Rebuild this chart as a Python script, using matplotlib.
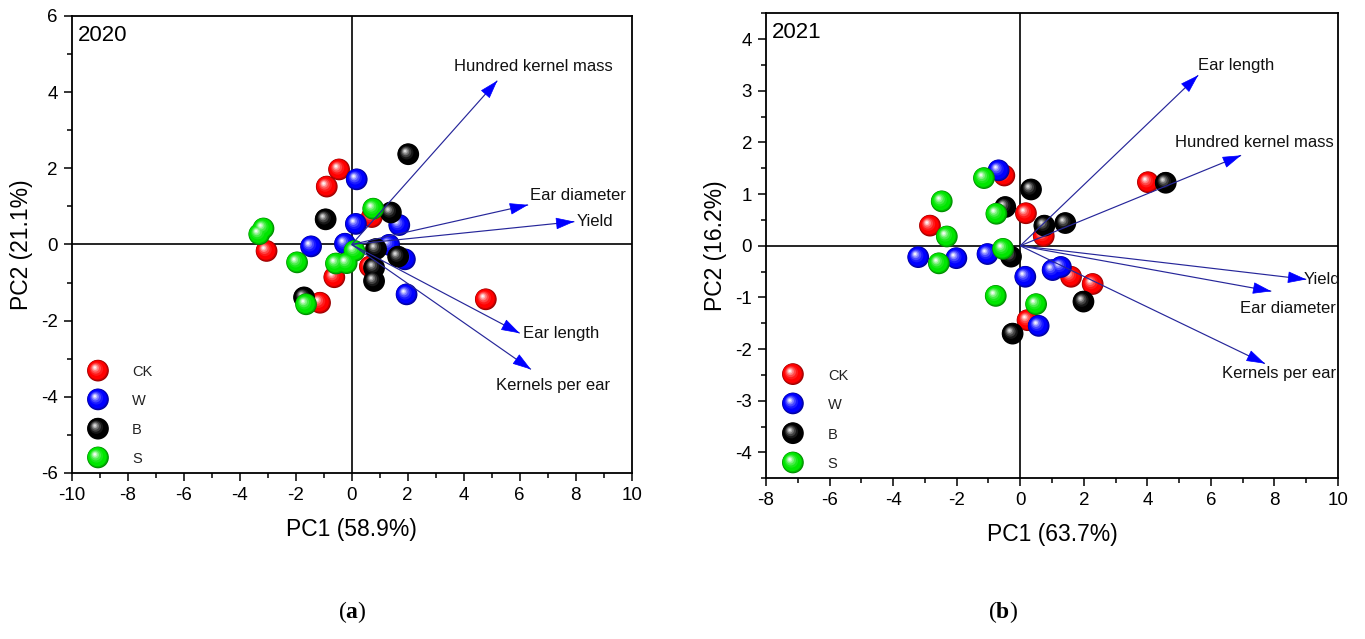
import numpy as np
import matplotlib
matplotlib.use('Agg')
import matplotlib.pyplot as plt
from matplotlib.colors import to_rgb
from matplotlib.transforms import ScaledTranslation
from matplotlib.patches import FancyArrowPatch
from matplotlib.ticker import MultipleLocator

plt.rcParams['font.family'] = ['Liberation Sans', 'DejaVu Sans']
plt.rcParams['axes.unicode_minus'] = False
plt.rcParams['mathtext.fontset'] = 'custom'
plt.rcParams['mathtext.rm'] = 'Liberation Serif'
plt.rcParams['mathtext.bf'] = 'Liberation Serif:bold'

# ---------------- data ----------------
groups = ['CK', 'W', 'B', 'S']
group_colors = ['#ff0000', '#0000ff', '#000000', '#00e600']

# 2020 PCA scores
ck20_x = [-0.45, -0.89, 0.72, -3.04, 0.65, -0.62, -1.13, 4.79]
ck20_y = [1.97, 1.52, 0.72, -0.17, -0.58, -0.86, -1.53, -1.44]
w20_x = [0.18, 1.70, 0.15, -1.45, -0.24, 1.34, 1.90, 1.96]
w20_y = [1.71, 0.51, 0.54, -0.05, 0.02, -0.01, -0.39, -1.31]
b20_x = [2.02, 1.40, -0.93, 0.87, 1.66, 0.80, 0.80, -1.70]
b20_y = [2.37, 0.84, 0.66, -0.12, -0.32, -0.61, -0.96, -1.39]
s20_x = [0.77, -3.15, -3.30, 0.10, -0.18, -1.95, -0.56, -1.63]
s20_y = [0.94, 0.42, 0.27, -0.17, -0.49, -0.47, -0.50, -1.57]

vec20_names = ['Hundred kernel mass', 'Ear diameter', 'Yield', 'Ear length', 'Kernels per ear']
vec20_x = [5.2, 6.3, 7.95, 6.0, 6.4]
vec20_y = [4.3, 1.04, 0.60, -2.33, -3.28]

# 2021 PCA scores
ck21_x = [-0.50, 0.18, -2.84, 0.74, 4.02, 1.60, 2.28, 0.23]
ck21_y = [1.36, 0.63, 0.39, 0.19, 1.23, -0.60, -0.74, -1.44]
w21_x = [-0.68, -3.21, -2.01, -1.03, 0.16, 1.02, 1.28, 0.58]
w21_y = [1.46, -0.22, -0.24, -0.16, -0.60, -0.47, -0.41, -1.55]
b21_x = [0.34, -0.47, 0.76, 1.42, 4.58, -0.29, 1.99, -0.24]
b21_y = [1.09, 0.75, 0.39, 0.44, 1.22, -0.21, -1.08, -1.70]
s21_x = [-1.14, -2.47, -0.75, -2.31, -2.56, -0.54, -0.77, 0.50]
s21_y = [1.31, 0.86, 0.62, 0.18, -0.34, -0.06, -0.97, -1.13]

vec21_names = ['Ear length', 'Hundred kernel mass', 'Yield', 'Ear diameter', 'Kernels per ear']
vec21_x = [5.6, 6.95, 9.0, 7.9, 7.7]
vec21_y = [3.3, 1.75, -0.65, -0.88, -2.28]

# ---------------- styling / layout ----------------
DPI = 100
fig = plt.figure(figsize=(13.65, 6.39), dpi=DPI)

ax1 = fig.add_axes([0.0525, 0.2598, 0.4103, 0.7152])
ax2 = fig.add_axes([0.5612, 0.2515, 0.4190, 0.7277])

# label offsets (pixels) relative to arrow tips, and alignment
lab20 = [(-43, 14, 'left'), (2, 9, 'left'), (2, 0, 'left'), (3, 0, 'left'), (-35, -16, 'left')]
lab21 = [(0, 10, 'left'), (-66, 13, 'left'), (-3, 0, 'left'), (65, -17, 'right'), (71, -10, 'right')]

LAYERS = [(1.00, 0.00, -0.40), (0.94, 0.04, -0.20), (0.86, 0.08, 0.0),
          (0.62, 0.20, 0.10), (0.48, 0.28, 0.28), (0.34, 0.34, 0.50),
          (0.22, 0.38, 0.75), (0.11, 0.40, 0.95)]


def draw_spheres(ax, xs, ys, color, z, trans=None, s=245):
    base = np.array(to_rgb(color))
    R = np.sqrt(s) / 2.0
    tr0 = trans if trans is not None else ax.transData
    for k, (rf, sf, mix) in enumerate(LAYERS):
        if mix < 0:
            c = base * (1 + mix)
        else:
            c = base * (1 - mix) + np.ones(3) * mix
        if color == '#000000' and mix > 0:
            c = np.ones(3) * (mix * 0.9)
        sh = sf * R * 0.72 / 72.0
        off = ScaledTranslation(-sh, sh, fig.dpi_scale_trans)
        ax.scatter(xs, ys, s=(2 * R * rf) ** 2, color=[np.clip(c, 0, 1)],
                   edgecolors='none', transform=tr0 + off,
                   zorder=z + k * 0.001, clip_on=False)


def draw_vectors(ax, names, vx, vy, offs):
    for name, x, y, (dx, dy, ha) in zip(names, vx, vy, offs):
        ax.plot([0, x], [0, y], color='#26269a', lw=0.85, zorder=20,
                solid_capstyle='butt')
        p0 = ax.transData.transform((0, 0))
        p1 = ax.transData.transform((x, y))
        d = (p1 - p0) / np.linalg.norm(p1 - p0)
        tail = ax.transData.inverted().transform(p1 - d * 14)
        arr = FancyArrowPatch(posA=tuple(tail), posB=(x, y),
                              arrowstyle='-|>,head_length=1.2,head_width=0.38',
                              mutation_scale=10, color='#0000ff', lw=0.5,
                              shrinkA=0, shrinkB=0, zorder=21)
        ax.add_patch(arr)
        ax.annotate(name, xy=(x, y), xytext=(dx, dy), textcoords='offset pixels',
                    ha=ha, va='center', fontsize=12, color='#111111', zorder=22)


def setup(ax, xlim, ylim, xmaj, ymaj, ymin, xlabel, ylabel, year):
    ax.set_xlim(*xlim)
    ax.set_ylim(*ylim)
    ax.xaxis.set_major_locator(MultipleLocator(xmaj))
    ax.xaxis.set_minor_locator(MultipleLocator(xmaj / 2))
    ax.yaxis.set_major_locator(MultipleLocator(ymaj))
    ax.yaxis.set_minor_locator(MultipleLocator(ymin))
    ax.tick_params(which='major', direction='out', length=6, width=1.1,
                   labelsize=13.5, pad=4)
    ax.tick_params(which='minor', direction='out', length=3.5, width=1.1)
    for sp in ax.spines.values():
        sp.set_linewidth(1.3)
    ax.axhline(0, color='black', lw=1.2, zorder=1)
    ax.axvline(0, color='black', lw=1.2, zorder=1)
    ax.set_xlabel(xlabel, fontsize=16.5, labelpad=10)
    ax.set_ylabel(ylabel, fontsize=16.5, labelpad=6)
    ax.text(0.011, 0.958, year, transform=ax.transAxes, fontsize=16,
            ha='left', va='center')
    # legend
    leg_y = [0.224, 0.161, 0.097, 0.034]
    for i, (g, col) in enumerate(zip(groups, group_colors)):
        draw_spheres(ax, [0.047], [leg_y[i]], col, 30, trans=ax.transAxes)
        ax.text(0.108, leg_y[i] - 0.004, g, transform=ax.transAxes, fontsize=10.5,
                ha='left', va='center', color='#222222')


setup(ax1, (-10, 10), (-6, 6), 2, 2, 1, 'PC1 (58.9%)', 'PC2 (21.1%)', '2020')
setup(ax2, (-8, 10), (-4.5, 4.5), 2, 1, 0.5, 'PC1 (63.7%)', 'PC2 (16.2%)', '2021')

scores20 = [(ck20_x, ck20_y), (w20_x, w20_y), (b20_x, b20_y), (s20_x, s20_y)]
scores21 = [(ck21_x, ck21_y), (w21_x, w21_y), (b21_x, b21_y), (s21_x, s21_y)]
for i, col in enumerate(group_colors):
    draw_spheres(ax1, scores20[i][0], scores20[i][1], col, 3 + i)
    draw_spheres(ax2, scores21[i][0], scores21[i][1], col, 3 + i)

draw_vectors(ax1, vec20_names, vec20_x, vec20_y, lab20)
draw_vectors(ax2, vec21_names, vec21_x, vec21_y, lab21)

fig.text(0.258, 0.042, r'($\mathbf{a}$)', family='Liberation Serif', fontsize=17,
         ha='center', va='center')
fig.text(0.735, 0.042, r'($\mathbf{b}$)', family='Liberation Serif', fontsize=17,
         ha='center', va='center')

fig.savefig('out.png', dpi=DPI)
